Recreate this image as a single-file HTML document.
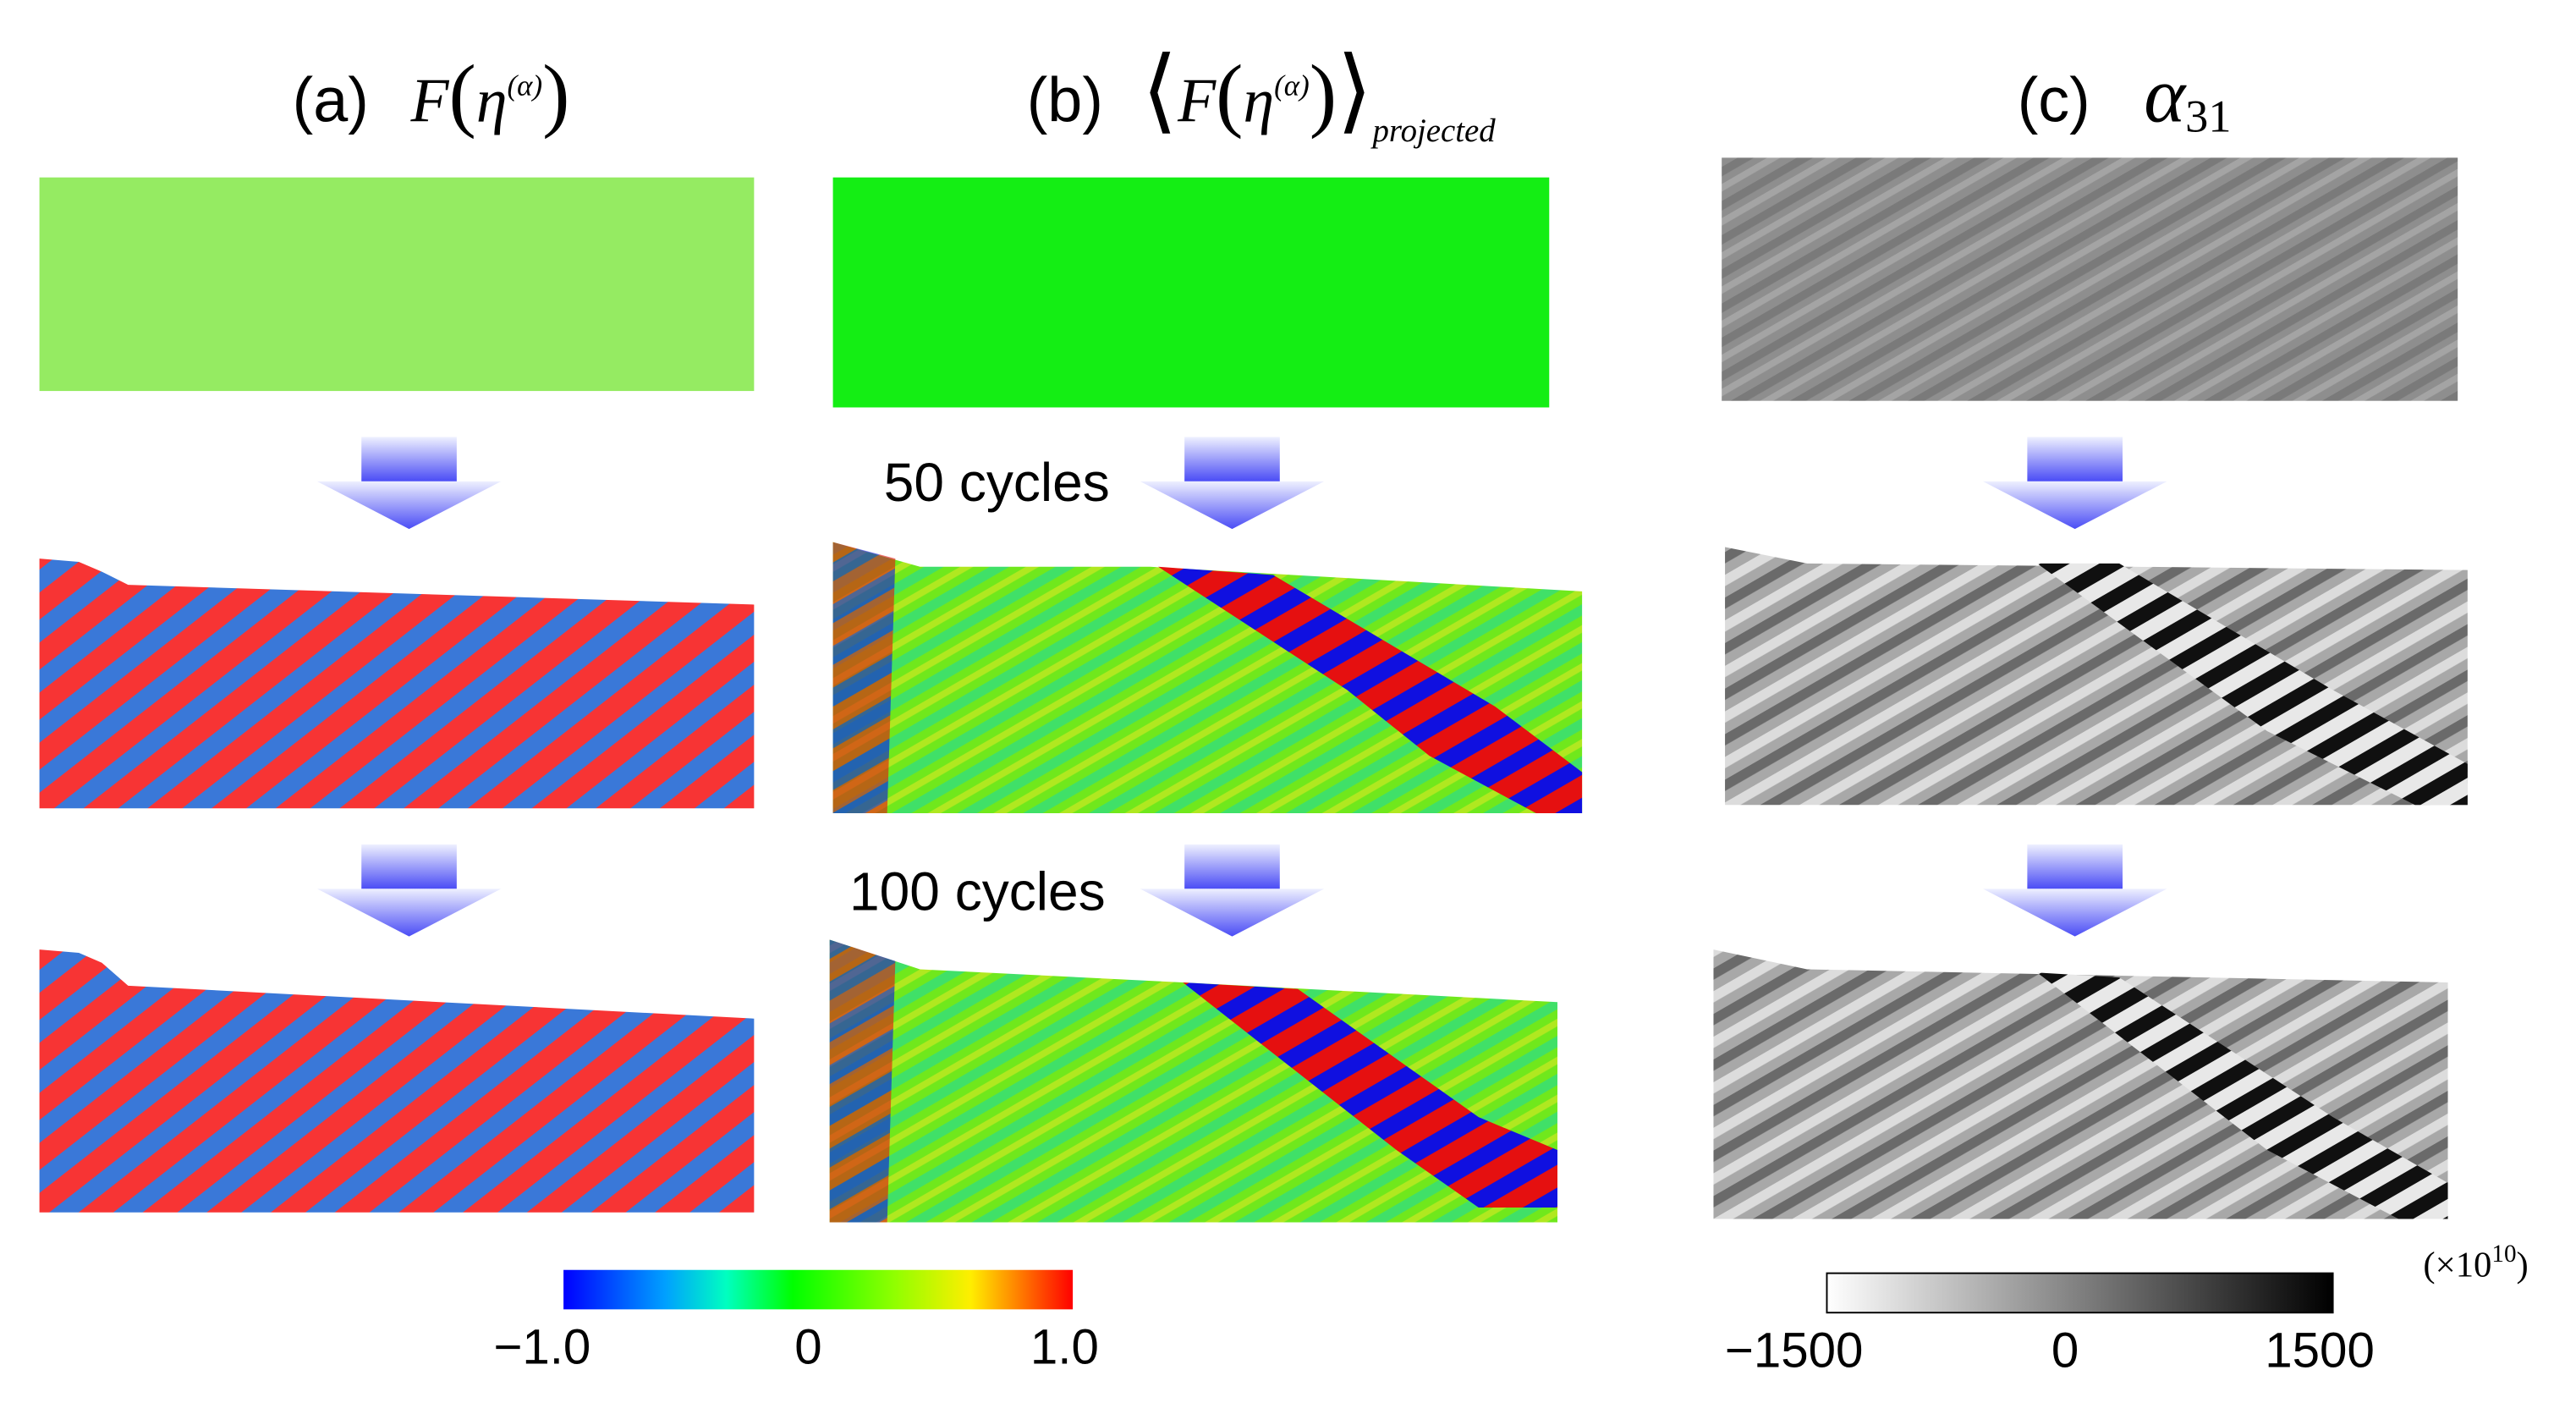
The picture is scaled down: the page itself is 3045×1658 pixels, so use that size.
<!DOCTYPE html>
<html><head><meta charset="utf-8"><style>
html,body{margin:0;padding:0;background:#fff;}
svg{display:block;}
.s{font-family:"Liberation Sans",sans-serif;}
.r{font-family:"Liberation Serif",serif;}
</style></head><body>
<svg width="3045" height="1658" viewBox="0 0 1568 854" preserveAspectRatio="none" xmlns="http://www.w3.org/2000/svg">
<defs>
<linearGradient id="arrowG" x1="0" y1="0" x2="0" y2="1"><stop offset="0" stop-color="#eef0ff"/><stop offset="1" stop-color="#4a4cf5"/></linearGradient>
<linearGradient id="jet" x1="0" y1="0" x2="1" y2="0"><stop offset="0" stop-color="#0000ff"/><stop offset="0.2" stop-color="#00a0ff"/><stop offset="0.32" stop-color="#00ffc0"/><stop offset="0.45" stop-color="#00ff00"/><stop offset="0.65" stop-color="#90ff00"/><stop offset="0.8" stop-color="#ffee00"/><stop offset="1" stop-color="#ff0000"/></linearGradient>
<linearGradient id="gray" x1="0" y1="0" x2="1" y2="0"><stop offset="0" stop-color="#ffffff"/><stop offset="1" stop-color="#000000"/></linearGradient>
<pattern id="rbStripes" width="24" height="24" patternUnits="userSpaceOnUse" patternTransform="rotate(-38)"><rect width="24" height="24" fill="#f73434"/><rect width="24" height="11" fill="#3a78d8"/></pattern>
<pattern id="grayStripes" width="18" height="18" patternUnits="userSpaceOnUse" patternTransform="rotate(-30)"><rect width="18" height="18" fill="#8e8e8e"/><rect width="18" height="5" fill="#7a7a7a"/><rect y="9" width="18" height="4" fill="#a4a4a4"/></pattern>
<pattern id="grayStripes2" width="24" height="24" patternUnits="userSpaceOnUse" patternTransform="rotate(-30)"><rect width="24" height="24" fill="#a8a8a8"/><rect width="24" height="6" fill="#6a6a6a"/><rect y="12" width="24" height="6" fill="#dcdcdc"/></pattern>
<pattern id="greenStripes" width="20" height="20" patternUnits="userSpaceOnUse" patternTransform="rotate(-30)"><rect width="20" height="20" fill="#70e81c"/><rect width="20" height="6" fill="#40e068"/><rect y="11" width="20" height="4" fill="#b0e820"/></pattern>
<pattern id="bandStripes" width="22" height="22" patternUnits="userSpaceOnUse" patternTransform="rotate(-30)"><rect width="22" height="22" fill="#e51010"/><rect width="22" height="10" fill="#1010e0"/></pattern>
<pattern id="darkBand" width="18" height="18" patternUnits="userSpaceOnUse" patternTransform="rotate(-30)"><rect width="18" height="18" fill="#e8e8e8"/><rect width="18" height="9" fill="#101010"/></pattern>
<g id="arrow"><rect x="27" y="0" width="58" height="27" fill="url(#arrowG)"/><polygon points="0,27 112,27 56,56" fill="url(#arrowG)"/></g>
</defs>
<rect width="1568" height="854" fill="#fff"/>

<!-- titles -->
<text class="s" x="178" y="74" font-size="38">(a)</text>
<text class="r" x="250" y="74" font-size="38" font-style="italic">F<tspan font-style="normal" font-size="50">(</tspan>η<tspan dy="-16" font-size="18">(α)</tspan><tspan dy="16" font-style="normal" font-size="50">)</tspan></text>
<text class="s" x="625" y="74" font-size="38">(b)</text>
<text class="r" x="695" y="74" font-size="38" font-style="italic"><tspan font-style="normal" font-size="56">⟨</tspan>F<tspan font-style="normal" font-size="50">(</tspan>η<tspan dy="-16" font-size="18">(α)</tspan><tspan dy="16" font-style="normal" font-size="50">)</tspan><tspan font-style="normal" font-size="56">⟩</tspan><tspan dy="12" font-size="20">projected</tspan></text>
<text class="s" x="1228" y="74" font-size="38">(c)</text>
<text class="r" x="1305" y="74" font-size="48" font-style="italic">α<tspan dy="6" font-style="normal" font-size="28">31</tspan></text>

<!-- row 1 -->
<rect x="24" y="108" width="435" height="130" fill="#95eb62"/>
<rect x="507" y="108" width="436" height="140" fill="#14ee14"/>
<rect x="1048" y="96" width="448" height="148" fill="url(#grayStripes)"/>

<!-- arrows -->
<use href="#arrow" x="193" y="266"/>
<use href="#arrow" x="694" y="266"/>
<use href="#arrow" x="1207" y="266"/>
<use href="#arrow" x="193" y="514"/>
<use href="#arrow" x="694" y="514"/>
<use href="#arrow" x="1207" y="514"/>
<text class="s" x="538" y="305" font-size="33">50 cycles</text>
<text class="s" x="517" y="554" font-size="33">100 cycles</text>

<!-- row 2 -->
<polygon points="24,340 48,342 62,348 78,356 459,368 459,492 24,492" fill="url(#rbStripes)"/>
<polygon points="507,330 560,345 700,345 963,360 963,495 507,495" fill="url(#greenStripes)"/>
<polygon points="507,330 545,340 540,495 507,495" fill="url(#bandStripes)" opacity="0.6"/>
<polygon points="705,345 775,350 910,430 963,470 963,495 935,495 870,460 820,420" fill="url(#bandStripes)"/>
<polygon points="1050,333 1100,343 1502,347 1502,490 1050,490" fill="url(#grayStripes2)"/>
<polygon points="1240,343 1290,343 1420,420 1502,465 1502,490 1470,490 1380,445" fill="url(#darkBand)"/>

<!-- row 3 -->
<polygon points="24,578 48,580 62,586 78,600 459,620 459,738 24,738" fill="url(#rbStripes)"/>
<polygon points="505,572 560,590 720,598 948,610 948,744 505,744" fill="url(#greenStripes)"/>
<polygon points="505,572 545,585 540,744 505,744" fill="url(#bandStripes)" opacity="0.6"/>
<polygon points="720,598 790,602 900,680 948,700 948,735 900,735 850,700" fill="url(#bandStripes)"/>
<polygon points="1043,578 1100,590 1490,598 1490,742 1043,742" fill="url(#grayStripes2)"/>
<polygon points="1240,592 1290,595 1420,680 1490,720 1490,742 1460,742 1380,700" fill="url(#darkBand)"/>

<!-- colorbars -->
<rect x="343" y="773" width="310" height="24" fill="url(#jet)"/>
<text class="s" x="330" y="830" font-size="30" text-anchor="middle">−1.0</text>
<text class="s" x="492" y="830" font-size="30" text-anchor="middle">0</text>
<text class="s" x="648" y="830" font-size="30" text-anchor="middle">1.0</text>
<rect x="1112" y="775" width="308" height="24" fill="url(#gray)" stroke="#000" stroke-width="1"/>
<text class="s" x="1092" y="832" font-size="30" text-anchor="middle">−1500</text>
<text class="s" x="1257" y="832" font-size="30" text-anchor="middle">0</text>
<text class="s" x="1412" y="832" font-size="30" text-anchor="middle">1500</text>
<text class="r" x="1475" y="777" font-size="22">(×10<tspan dy="-9" font-size="15">10</tspan><tspan dy="9">)</tspan></text>
</svg>
</body></html>
